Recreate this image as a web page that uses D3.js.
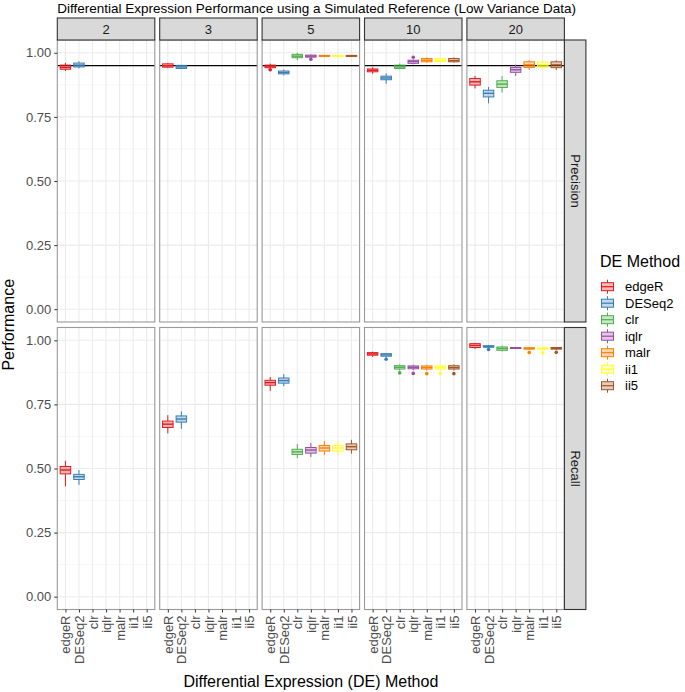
<!DOCTYPE html>
<html><head><meta charset="utf-8">
<script src="https://cdn.jsdelivr.net/npm/d3@7"></script>
<style>body{margin:0;background:#fff}svg{display:block}text{font-family:"Liberation Sans",Arial,Helvetica,sans-serif}</style>
</head><body><svg id="c" width="685" height="692"></svg>
<script>
const methods = ["edgeR","DESeq2","clr","iqlr","malr","ii1","ii5"];
const colors = ["#E41A1C","#377EB8","#4DAF4A","#984EA3","#FF7F00","#FFFF33","#A65628"];
const kLabels = ["2","3","5","10","20"];
const metricLabels = ["Precision","Recall"];
const yTicks = [0,0.25,0.5,0.75,1];
const yTickLabels = ["0.00","0.25","0.50","0.75","1.00"];
const threshold = 0.95;
// rows: [method, lowWhisker, q1, median, q3, highWhisker, outliers]
const precision_2 = [["edgeR",0.929,0.936,0.943,0.952,0.961,[]],["DESeq2",0.939,0.945,0.952,0.960,0.967,[]]];
const precision_3 = [["edgeR",0.940,0.944,0.950,0.957,0.960,[]],["DESeq2",0.937,0.939,0.945,0.951,0.953,[]]];
const precision_5 = [["edgeR",0.940,0.942,0.948,0.952,0.958,[0.934]],["DESeq2",0.912,0.918,0.923,0.929,0.935,[]],
  ["clr",0.971,0.981,0.987,0.994,1.0,[]],["iqlr",0.980,0.983,0.987,0.991,0.993,[0.975]],
  ["malr",0.985,0.986,0.988,0.990,0.991,[]],["ii1",0.985,0.986,0.988,0.990,0.991,[]],["ii5",0.985,0.986,0.988,0.990,0.991,[]]];
const precision_10 = [["edgeR",0.918,0.926,0.932,0.937,0.944,[]],["DESeq2",0.879,0.895,0.902,0.909,0.920,[]],
  ["clr",0.936,0.939,0.945,0.952,0.958,[]],["iqlr",0.955,0.959,0.966,0.971,0.974,[0.983]],
  ["malr",0.962,0.965,0.971,0.978,0.982,[]],["ii1",0.963,0.966,0.970,0.978,0.980,[]],["ii5",0.962,0.965,0.970,0.978,0.982,[]]];
const precision_20 = [["edgeR",0.861,0.874,0.887,0.900,0.910,[]],["DESeq2",0.803,0.828,0.842,0.854,0.867,[]],
  ["clr",0.845,0.865,0.878,0.891,0.909,[]],["iqlr",0.910,0.924,0.934,0.943,0.954,[]],
  ["malr",0.933,0.943,0.953,0.965,0.971,[]],["ii1",0.935,0.943,0.953,0.964,0.970,[]],["ii5",0.933,0.942,0.953,0.965,0.971,[]]];
const recall_2 = [["edgeR",0.430,0.479,0.494,0.508,0.530,[]],["DESeq2",0.436,0.457,0.468,0.477,0.494,[]]];
const recall_3 = [["edgeR",0.637,0.660,0.673,0.685,0.708,[]],["DESeq2",0.655,0.681,0.693,0.705,0.723,[]]];
const recall_5 = [["edgeR",0.803,0.825,0.835,0.844,0.857,[]],["DESeq2",0.821,0.833,0.843,0.853,0.868,[]],
  ["clr",0.540,0.555,0.565,0.575,0.595,[]],["iqlr",0.545,0.560,0.572,0.582,0.600,[]],
  ["malr",0.553,0.568,0.580,0.590,0.607,[]],["ii1",0.553,0.568,0.580,0.590,0.607,[]],["ii5",0.558,0.573,0.585,0.596,0.612,[]]];
const recall_10 = [["edgeR",0.935,0.942,0.947,0.952,0.956,[]],["DESeq2",0.932,0.938,0.943,0.948,0.951,[0.926]],
  ["clr",0.882,0.888,0.895,0.901,0.906,[0.873]],["iqlr",0.883,0.889,0.895,0.900,0.905,[0.871]],
  ["malr",0.882,0.888,0.894,0.900,0.905,[0.870]],["ii1",0.882,0.888,0.894,0.900,0.905,[0.871]],["ii5",0.882,0.888,0.894,0.901,0.906,[0.870]]];
const recall_20 = [["edgeR",0.966,0.972,0.980,0.987,0.990,[]],["DESeq2",0.970,0.973,0.976,0.979,0.982,[0.964]],
  ["clr",0.957,0.961,0.968,0.974,0.980,[]],["iqlr",0.966,0.968,0.970,0.972,0.974,[]],
  ["malr",0.962,0.966,0.968,0.971,0.973,[0.952]],["ii1",0.962,0.966,0.968,0.971,0.973,[0.951]],["ii5",0.962,0.966,0.968,0.972,0.974,[0.953]]];

const panelData = [[precision_2,precision_3,precision_5,precision_10,precision_20],
                   [recall_2,recall_3,recall_5,recall_10,recall_20]];

const svg = d3.select("#c");
const left0 = 57.3, colStep = 102.4, pw = 97.5, ph = 282;
const rowTops = [40, 327.5];
const stripH = 22, stripW = 21.5;
const x = d3.scalePoint().domain(methods).range([0,pw]).padding(0.6);
const y = d3.scaleLinear().domain([-0.05,1.05]).range([ph,0]);
const colorOf = d3.scaleOrdinal().domain(methods).range(colors);
const minorTicks = [0.125,0.375,0.625,0.875];

// title
svg.append("text").attr("x",left0).attr("y",13).attr("font-size",13.5).attr("fill","#000")
  .text("Differential Expression Performance using a Simulated Reference (Low Variance Data)");

const bw = 10.5;
panelData.forEach((row, ri) => {
  row.forEach((data, ci) => {
    const g = svg.append("g").attr("transform",`translate(${left0+ci*colStep},${rowTops[ri]})`);
    g.append("rect").attr("width",pw).attr("height",ph).attr("fill","#fff");
    g.selectAll(".mn").data(minorTicks).join("line").attr("x1",0).attr("x2",pw)
      .attr("y1",d=>y(d)).attr("y2",d=>y(d)).attr("stroke","#F2F2F2").attr("stroke-width",0.6);
    g.selectAll(".mj").data(yTicks).join("line").attr("x1",0).attr("x2",pw)
      .attr("y1",d=>y(d)).attr("y2",d=>y(d)).attr("stroke","#EBEBEB").attr("stroke-width",1.1);
    g.selectAll(".vx").data(methods).join("line").attr("y1",0).attr("y2",ph)
      .attr("x1",d=>x(d)).attr("x2",d=>x(d)).attr("stroke","#EBEBEB").attr("stroke-width",1.1);
    if (ri===0) {
      g.append("line").attr("x1",0).attr("x2",pw).attr("y1",y(threshold)).attr("y2",y(threshold))
        .attr("stroke","#000").attr("stroke-width",1.1);
    }
    const bx = g.selectAll(".bx").data(data).join("g");
    bx.each(function(d){
      const s = d3.select(this), cx = x(d[0]), c = colorOf(d[0]);
      s.append("line").attr("x1",cx).attr("x2",cx).attr("y1",y(d[1])).attr("y2",y(d[2])).attr("stroke",c).attr("stroke-width",1);
      s.append("line").attr("x1",cx).attr("x2",cx).attr("y1",y(d[4])).attr("y2",y(d[5])).attr("stroke",c).attr("stroke-width",1);
      s.append("rect").attr("x",cx-bw/2).attr("width",bw).attr("y",y(d[4])).attr("height",Math.max(0.5,y(d[2])-y(d[4])))
        .attr("fill",c).attr("fill-opacity",0.3).attr("stroke",c).attr("stroke-width",1);
      s.append("line").attr("x1",cx-bw/2).attr("x2",cx+bw/2).attr("y1",y(d[3])).attr("y2",y(d[3])).attr("stroke",c).attr("stroke-width",1.4);
      s.selectAll("circle").data(d[6]).join("circle").attr("cx",cx).attr("cy",v=>y(v)).attr("r",1.8).attr("fill",c);
    });
    g.append("rect").attr("width",pw).attr("height",ph).attr("fill","none").attr("stroke","#999").attr("stroke-width",1.1);
    if (ci===0) {
      const ax = g.append("g").call(d3.axisLeft(y).tickValues(yTicks).tickSize(3).tickPadding(3)
        .tickFormat((d,i)=>yTickLabels[i]));
      ax.select(".domain").remove();
      ax.selectAll("line").attr("stroke","#333");
      ax.selectAll("text").attr("font-size",13).attr("fill","#4D4D4D").attr("font-family","Liberation Sans,Arial,sans-serif");
    }
    if (ri===1) {
      const ax = g.append("g").attr("transform",`translate(0,${ph})`).call(d3.axisBottom(x).tickSize(3).tickPadding(3));
      ax.select(".domain").remove();
      ax.selectAll("line").attr("stroke","#333");
      ax.selectAll("text").attr("font-size",13).attr("fill","#4D4D4D").attr("font-family","Liberation Sans,Arial,sans-serif")
        .attr("transform","rotate(-90)").attr("text-anchor","end").attr("dy","0.35em").attr("x",-6).attr("y",0);
    }
  });
  // right strip
  const sg = svg.append("g").attr("transform",`translate(${left0+4*colStep+pw},${rowTops[ri]})`);
  sg.append("rect").attr("width",stripW).attr("height",ph).attr("fill","#D9D9D9").attr("stroke","#333").attr("stroke-width",1.1);
  sg.append("text").attr("transform",`translate(${stripW/2},${ph/2}) rotate(90)`).attr("text-anchor","middle")
    .attr("dy","0.35em").attr("font-size",13).attr("fill","#1A1A1A").text(metricLabels[ri]);
});
// top strips
kLabels.forEach((k,ci)=>{
  const sg = svg.append("g").attr("transform",`translate(${left0+ci*colStep},${rowTops[0]-stripH})`);
  sg.append("rect").attr("width",pw).attr("height",stripH).attr("fill","#D9D9D9").attr("stroke","#333").attr("stroke-width",1.1);
  sg.append("text").attr("x",pw/2).attr("y",stripH/2).attr("dy","0.35em").attr("text-anchor","middle")
    .attr("font-size",13).attr("fill","#1A1A1A").text(k);
});
// axis titles
svg.append("text").attr("transform",`translate(14,${(rowTops[0]+rowTops[1]+ph)/2}) rotate(-90)`).attr("text-anchor","middle")
  .attr("font-size",16).attr("fill","#000").text("Performance");
svg.append("text").attr("x",left0+(4*colStep+pw)/2).attr("y",687).attr("text-anchor","middle")
  .attr("font-size",16).attr("fill","#000").text("Differential Expression (DE) Method");
// legend
const lg = svg.append("g").attr("transform","translate(600,0)");
lg.append("text").attr("x",0).attr("y",267).attr("font-size",16).attr("fill","#000").text("DE Method");
methods.forEach((m,i)=>{
  const cy = 286.7 + i*16.5, c = colorOf(m);
  const kg = lg.append("g");
  kg.append("line").attr("x1",7.5).attr("x2",7.5).attr("y1",cy-7).attr("y2",cy+7).attr("stroke",c).attr("stroke-width",1);
  kg.append("rect").attr("x",1.5).attr("y",cy-4).attr("width",12).attr("height",8).attr("fill","#fff").attr("stroke",c).attr("stroke-width",1);
  kg.append("rect").attr("x",1.5).attr("y",cy-4).attr("width",12).attr("height",8).attr("fill",c).attr("fill-opacity",0.3).attr("stroke","none");
  kg.append("line").attr("x1",1.5).attr("x2",13.5).attr("y1",cy).attr("y2",cy).attr("stroke",c).attr("stroke-width",1.2);
  kg.append("text").attr("x",25).attr("y",cy).attr("dy","0.35em").attr("font-size",13).attr("fill","#000").text(m);
});
</script></body></html>
